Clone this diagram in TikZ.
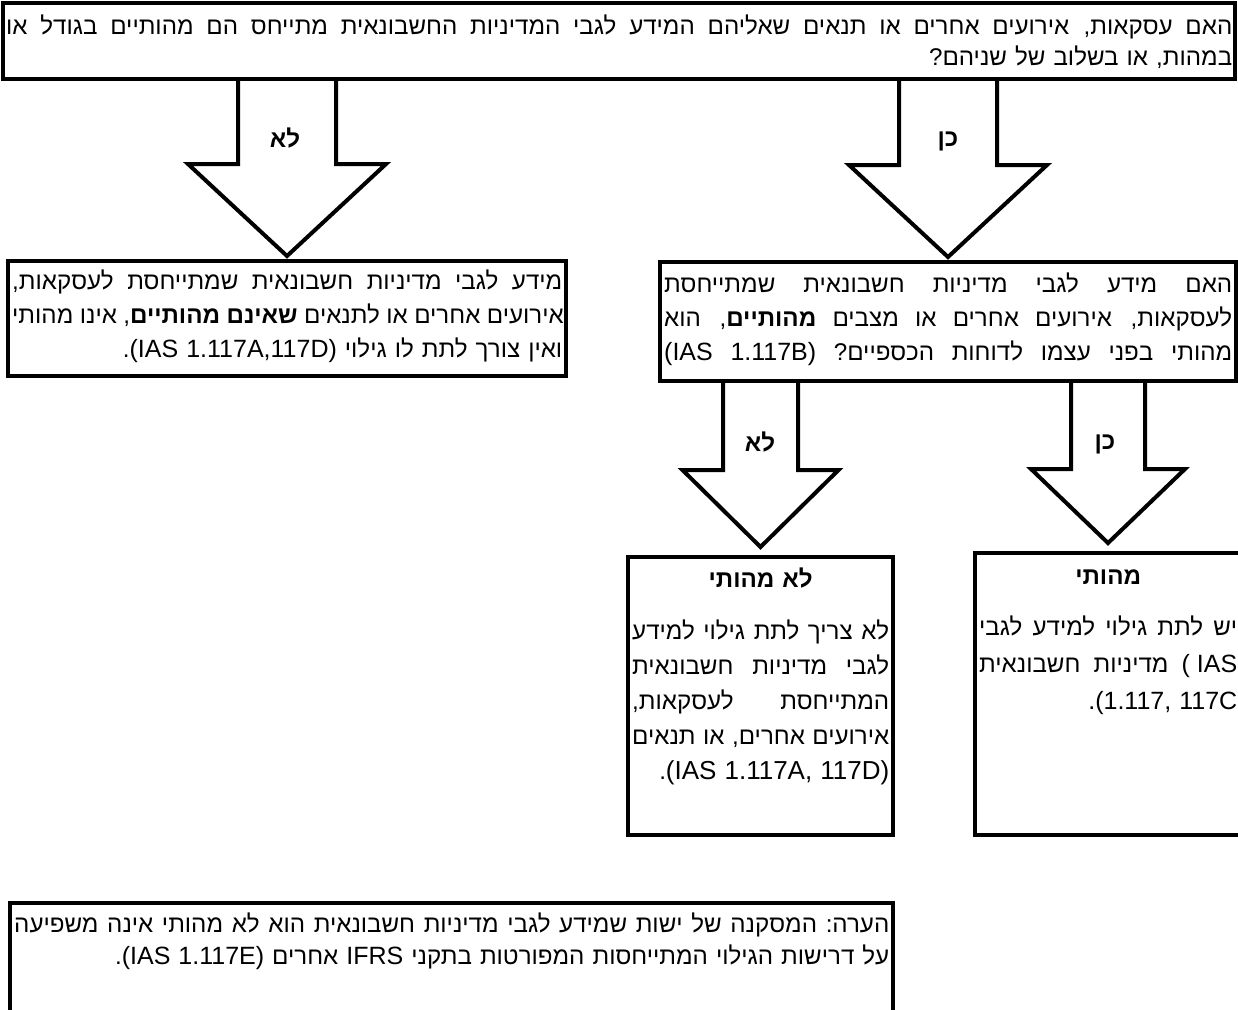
\documentclass[tikz,border=0pt]{standalone}
\usepackage{fontspec}
\setmainfont{Liberation Sans}
\newfontfamily\hebfont[Script=Hebrew, Scale=1.15]{Liberation Sans}
\TeXXeTstate=1
\usetikzlibrary{calc}

% one line of right-to-left text: spread over the line / flush right / centred
\newcommand\rline[1]{\hbox to\hsize{\spaceskip=6.5pt plus 1fil\xspaceskip=\spaceskip
  \vrule height 20pt width 0pt\beginR #1\endR}}
\newcommand\rlast[1]{\hbox to\hsize{\vrule height 20pt width 0pt\hfill\beginR #1\endR}}
\newcommand\rmid[1]{\hbox to\hsize{\vrule height 20pt width 0pt\hfill\beginR #1\endR\hfill}}
% latin piece inside a hebrew line (optional size)
\newcommand\ltr[2][25]{\beginL{\rmfamily\fontsize{#1}{#1}\selectfont #2}\endL}
% block arrow from the bottom of #1 down to the top of #2
% #3 half shaft, #4 half head, #5 head length, #6 gap above target
\newcommand\fatarrow[6]{%
  \draw[blockarrow] let \p1=(#1.south), \p2=(#2.north) in
    (\x2-#3pt,\y1) -- (\x2-#3pt,\y2+#6pt+#5pt) -- (\x2-#4pt,\y2+#6pt+#5pt)
    -- (\x2,\y2+#6pt) -- (\x2+#4pt,\y2+#6pt+#5pt) -- (\x2+#3pt,\y2+#6pt+#5pt)
    -- (\x2+#3pt,\y1);}

\begin{document}
\begin{tikzpicture}[x=1pt, y=-1pt, line join=miter,
    frame/.style={draw, line width=4pt, anchor=north west, inner sep=0pt, outer sep=0pt},
    txt/.style={anchor=north west, inner sep=0pt, font=\hebfont\fontsize{21}{34}\selectfont},
    blockarrow/.style={draw, line width=4pt},
    arrlabel/.style={inner sep=0pt, font=\hebfont\bfseries\fontsize{21}{25}\selectfont}]
  \useasboundingbox (0,0) rectangle (1238,1009);
  %% boxes
  \node[frame, minimum width=1232, minimum height=76] (q0) at (3,3) {};
  \node[frame, minimum width=558, minimum height=115] (no0) at (8,261) {};
  \node[frame, minimum width=576, minimum height=119] (q1) at (660,262) {};
  \node[frame, minimum width=265, minimum height=278] (nomat) at (628,557) {};
  \node[frame, minimum width=266, minimum height=282] (mat) at (975,553) {};
  \node[frame, minimum width=883, minimum height=150] (note) at (10,903) {};
  %% texts
  \node[txt, text width=1226, font=\hebfont\fontsize{21}{31}\selectfont] (tq0) at (6,14) {%
    \rline{האם עסקאות, אירועים אחרים או תנאים שאליהם המידע לגבי המדיניות החשבונאית מתייחס הם מהותיים בגודל או}
    \rlast{במהות, או בשלוב של שניהם?}};
  \node[txt, text width=550] (tno0) at (12,269) {%
    \rline{מידע לגבי מדיניות חשבונאית שמתייחסת לעסקאות,}
    \rline{אירועים אחרים או לתנאים {\bfseries שאינם מהותיים}, אינו מהותי}
    \rlast{ואין צורך לתת לו גילוי \ltr{(IAS 1.117A,117D)}.}};
  \node[txt, text width=568] (tq1) at (664,272) {%
    \rline{האם מידע לגבי מדיניות חשבונאית שמתייחסת}
    \rline{לעסקאות, אירועים אחרים או מצבים {\bfseries מהותיים}, הוא}
    \rline{מהותי בפני עצמו לדוחות הכספיים? \ltr{(IAS 1.117B)}}};
  \node[txt, text width=257, font=\hebfont\fontsize{21}{35}\selectfont] (tnomat) at (632,567) {%
    \rmid{\bfseries לא מהותי}\vskip 17pt
    \rline{לא צריך לתת גילוי למידע}
    \rline{לגבי מדיניות חשבונאית}
    \rline{המתייחסת לעסקאות,}
    \rline{אירועים אחרים, או תנאים}
    \rlast{\ltr[26]{(IAS 1.117A, 117D)}.}};
  \node[txt, text width=258, font=\hebfont\fontsize{21}{37}\selectfont] (tmat) at (979,564) {%
    \rmid{\bfseries מהותי}\vskip 14pt
    \rline{יש לתת גילוי למידע לגבי}
    \rline{\ltr{(\char"00A0 IAS} מדיניות חשבונאית}
    \rlast{\ltr{.(1.117, 117C}}};
  \node[txt, text width=875, font=\hebfont\fontsize{21}{32}\selectfont] (tnote) at (14,912) {%
    \rline{הערה: המסקנה של ישות שמידע לגבי מדיניות חשבונאית הוא לא מהותי אינה משפיעה}
    \rlast{על דרישות הגילוי המתייחסות המפורטות בתקני \ltr{IFRS} אחרים \ltr{(IAS 1.117E)}.}};
  %% arrows
  \fatarrow{q0}{no0}{49}{99}{92}{5}
  \fatarrow{q0}{q1}{49}{99}{92}{5}
  \fatarrow{q1}{nomat}{37.5}{78}{77}{10}
  \fatarrow{q1}{mat}{37}{77}{74}{10}
  \node[arrlabel] (lno0) at (285,138) {\beginR לא\endR};
  \node[arrlabel] (lyes0) at (948,141) {\beginR כן\endR};
  \node[arrlabel] (lno1) at (760,442) {\beginR לא\endR};
  \node[arrlabel] (lyes1) at (1105,444) {\beginR כן\endR};
\end{tikzpicture}
\end{document}
